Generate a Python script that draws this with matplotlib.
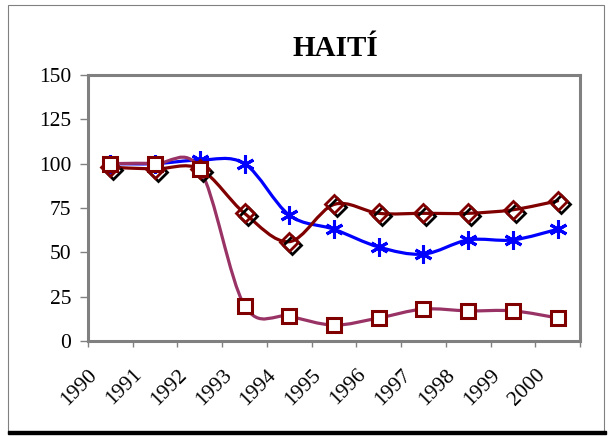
import numpy as np
import matplotlib
matplotlib.use('Agg')
import matplotlib.pyplot as plt
from matplotlib.path import Path
from matplotlib.patches import PathPatch, Rectangle
import matplotlib.transforms as mtransforms

plt.rcParams['font.family'] = ['Liberation Serif', 'DejaVu Serif']

# Data
years = ['1990', '1991', '1992', '1993', '1994', '1995', '1996', '1997', '1998', '1999', '2000']
serie_estrella = [100, 100, 102, 100, 71, 63, 53, 49, 57, 57, 63]
serie_rombo = [98, 97, 97, 72, 56, 77, 72, 72, 72, 74, 79]
serie_cuadro = [100, 100, 97, 20, 14, 9, 13, 18, 17, 17, 13]
y_ticks = [0, 25, 50, 75, 100, 125, 150]


# Smoothed line like Excel (cubic bezier through the points)
def smooth_path(x, y):
    pts = np.column_stack([x, y]).astype(float)
    n = len(pts)
    verts = [pts[0]]
    codes = [Path.MOVETO]
    for i in range(n - 1):
        p0 = pts[i - 1] if i > 0 else pts[i]
        p1 = pts[i]
        p2 = pts[i + 1]
        p3 = pts[i + 2] if i + 2 < n else pts[i + 1]
        c1 = p1 + (p2 - p0) / 6.0
        c2 = p2 - (p3 - p1) / 6.0
        verts += [c1, c2, p2]
        codes += [Path.CURVE4] * 3
    return Path(verts, codes)


fig = plt.figure(figsize=(6.12, 4.36), dpi=100)
fig.patches.append(Rectangle((8 / 612, 1 - 432 / 436), 596 / 612, 427 / 436,
                             transform=fig.transFigure, fill=False,
                             edgecolor='#808080', lw=0.8))
fig.patches.append(Rectangle((8 / 612, 1 - 434 / 436), 598 / 612, 0.006,
                             transform=fig.transFigure, color='black'))

ax = fig.add_axes([88 / 612, 1 - 341 / 436, 492 / 612, 266 / 436])
x = np.arange(len(years)) + 0.5

series = [
    (serie_estrella, '#0000FF', dict(marker=(6, 2, 0), ms=13, mec='#0000FF', mfc='#0000FF', mew=2.2)),
    (serie_rombo, '#800000', dict(marker='D', ms=9, mec='#800000', mfc='none', mew=2)),
    (serie_cuadro, '#993366', dict(marker='s', ms=10, mec='#800000', mfc='white', mew=2.2)),
]

for vals, col, mk in series:
    ax.add_patch(PathPatch(smooth_path(x, vals), fill=False, edgecolor=col,
                           lw=2.3, capstyle='round', joinstyle='round', zorder=2))
    if mk['marker'] == 'D':
        # black shadow of the diamond, shifted down-right
        off = mtransforms.offset_copy(ax.transData, fig=fig, x=3, y=-3, units='dots')
        ax.plot(x, vals, ls='none', marker='D', ms=9, mec='black', mfc='none',
                mew=2, transform=off, zorder=3)
    ax.plot(x, vals, ls='none', zorder=4, **mk)

ax.set_xlim(0, len(years))
ax.set_ylim(0, 150)
ax.set_yticks(y_ticks)
ax.set_yticklabels([str(v) for v in y_ticks], fontsize=15.5)
ax.set_xticks(np.arange(len(years) + 1))
ax.set_xticklabels(years + [''], fontsize=15.5, rotation=45, ha='right',
                   rotation_mode='anchor')
shift = mtransforms.ScaledTranslation(9 / 100, 0, fig.dpi_scale_trans)
for lab in ax.get_xticklabels():
    lab.set_transform(lab.get_transform() + shift)

for s in ax.spines.values():
    s.set_color('#808080')
    s.set_linewidth(2.2)
ax.tick_params(axis='both', direction='out', width=1, color='#808080')
ax.tick_params(axis='y', length=6, pad=6)
ax.tick_params(axis='x', length=4, pad=13.5)

fig.text(335 / 612, 1 - 48 / 436, 'HAITÍ', ha='center', va='center',
         fontsize=21, fontweight='bold')

fig.savefig('out.png', dpi=100)
